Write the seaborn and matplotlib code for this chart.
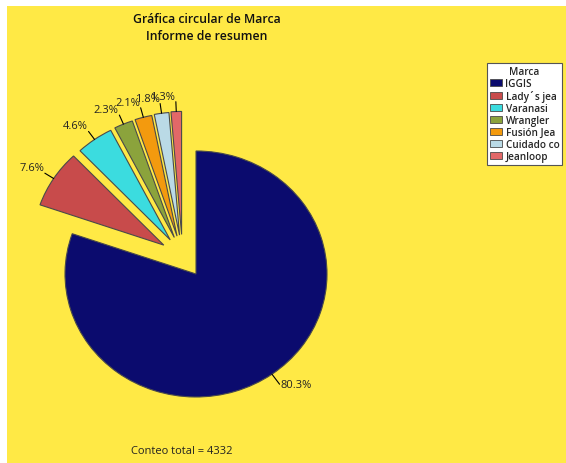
import numpy as np
import matplotlib
matplotlib.use("Agg")
import matplotlib.pyplot as plt
import matplotlib.patches as mpatches
import seaborn as sns

marcas = ["IGGIS", "Lady´s jea", "Varanasi", "Wrangler", "Fusión Jea", "Cuidado co", "Jeanloop"]
conteos = [3479, 329, 199, 100, 91, 78, 56]
colores = ["#0B0B6E", "#C84B4B", "#3BDCDF", "#8BA33C", "#F39A0E", "#BADAE6", "#E26868"]
separados = [False, True, True, True, True, True, True]

sns.set_style("white")
plt.rcParams["font.family"] = ["Open Sans", "DejaVu Sans"]

fondo = "#FFE945"
fig = plt.figure(figsize=(5.66, 4.64), dpi=100)
fig.patch.set_facecolor("white")
bg = fig.add_axes([7 / 566, 0, 1 - 7 / 566, 1 - 7 / 464])
bg.set_facecolor(fondo)
bg.set_xticks([])
bg.set_yticks([])
for s in bg.spines.values():
    s.set_visible(False)

ax = fig.add_axes([0.057, 0.076, 0.5786, 0.6627])
palette = sns.color_palette(colores)
wedges, _ = ax.pie(conteos, colors=palette, startangle=90, counterclock=False,
                   wedgeprops=dict(edgecolor="#4a4a4a", linewidth=0.8))
ax.set_aspect("auto")
ax.set_xlim(-1.25, 1.25)
ax.set_ylim(-1.25, 1.25)
ax.patch.set_visible(False)

# explode the small slices as a group: direction halfway between own mid-angle and group mid-angle
grupo = [w for w, sep in zip(wedges, separados) if sep]
ang_min = min(w.theta1 for w in grupo)
ang_max = max(w.theta2 for w in grupo)
mid_grupo = (ang_min + ang_max) / 2
for w in grupo:
    mid = (w.theta1 + w.theta2) / 2
    d = np.deg2rad((mid + mid_grupo) / 2)
    w.set_center((0.34 * np.cos(d), 0.34 * np.sin(d)))

total = sum(conteos)
for w, n in zip(wedges, conteos):
    ang = np.deg2rad((w.theta1 + w.theta2) / 2)
    c, s = np.cos(ang), np.sin(ang)
    cx, cy = w.center
    largo = 0.08 if s > 0 else 0.1
    x0, y0 = cx + w.r * c, cy + w.r * s
    x1, y1 = cx + (w.r + largo) * c, cy + (w.r + largo) * s
    ax.plot([x0, x1], [y0, y1], color="black", lw=0.8, clip_on=False)
    ax.text(x1 + (0.01 if c > 0 else -0.005), y1, f"{100 * n / total:.1f}%",
            ha="left" if c > 0 else "right",
            va="bottom" if s > 0 else "center", fontsize=8, color="#222222",
            clip_on=False)

fig.text(0.366, 0.957, "Gráfica circular de Marca", ha="center", va="center",
         fontsize=8.8, fontweight="semibold", color="#111111")
fig.text(0.366, 0.922, "Informe de resumen", ha="center", va="center",
         fontsize=8.8, fontweight="semibold", color="#111111")
fig.text(0.3216, 0.026, "Conteo total = 4332", ha="center", va="center",
         fontsize=8, color="#222222")

handles = [mpatches.Patch(facecolor=col, edgecolor="#4a4a4a", linewidth=0.6) for col in colores]
leg = fig.legend(handles, marcas, title="Marca", loc="upper left",
                 bbox_to_anchor=(487 / 566, 1 - 64 / 464), frameon=True,
                 fancybox=False, framealpha=1, fontsize=7.2, title_fontsize=7.2,
                 labelspacing=0.1, handlelength=1.15, handleheight=0.8,
                 handletextpad=0.4, borderpad=0.3, borderaxespad=0)
leg.get_frame().set_edgecolor("#555555")
leg.get_frame().set_facecolor("white")
leg.get_frame().set_linewidth(0.8)
leg.get_title().set_fontweight("semibold")
for t in leg.get_texts():
    t.set_fontweight("semibold")

fig.savefig("out.png", dpi=100, facecolor=fig.get_facecolor())
